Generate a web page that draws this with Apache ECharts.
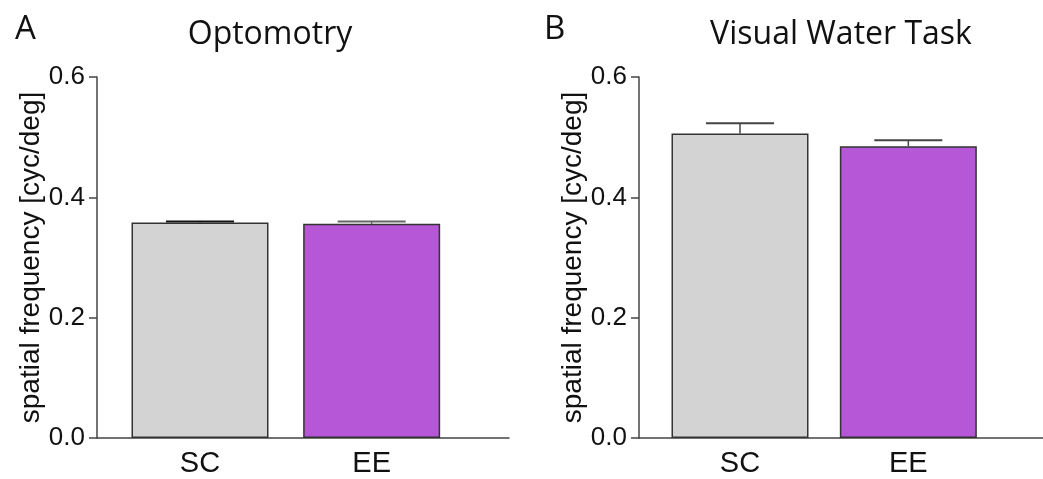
<!DOCTYPE html>
<html>
<head>
<meta charset="utf-8">
<script src="https://cdn.jsdelivr.net/npm/echarts@6/dist/echarts.min.js"></script>
<style>
html,body{margin:0;padding:0;background:#fff;}
#c{width:1043px;height:479px;}
</style>
</head>
<body>
<div id="c"></div>
<script>
// ---- data ----
const categories = ['SC', 'EE'];
const panelLetters = ['A', 'B'];
const panelTitles = ['Optomotry', 'Visual Water Task'];
const optomotryMean = [0.358, 0.356];
const optomotrySem = [0.002, 0.004];
const waterTaskMean = [0.506, 0.485];
const waterTaskSem = [0.017, 0.010];
const yTicks = [0.0, 0.2, 0.4, 0.6];
const yAxisName = 'spatial frequency [cyc/deg]';

// ---- styling ----
const barColors = ['#d3d3d3', '#b557d6'];
const errColorsA = ['#111111', '#666666'];
const errColorsB = ['#444444', '#444444'];
const axisColor = '#444444';
const labelFont = 'Liberation Sans, Arial, sans-serif';
const titleFont = '"Open Sans", "Noto Sans", sans-serif';

const chart = echarts.init(document.getElementById('c'), null, {renderer: 'canvas'});

function barData(means) {
  return means.map((v, i) => ({
    value: [i + 1, v],
    itemStyle: {color: barColors[i], borderColor: '#333', borderWidth: 1.5}
  }));
}
function errData(means, sems) {
  return means.map((v, i) => [i + 1, v, v + sems[i], i]);
}
function errRender(colors) {
  return function (params, api) {
    const x = api.value(0);
    const base = api.coord([x, api.value(1)]);
    const top = api.coord([x, api.value(2)]);
    const c = colors[api.value(3)];
    const half = 34;
    return {
      type: 'group',
      children: [
        {type: 'line', shape: {x1: base[0], y1: base[1], x2: top[0], y2: top[1]},
         style: {stroke: c, lineWidth: 1.5}},
        {type: 'line', shape: {x1: top[0] - half, y1: top[1], x2: top[0] + half, y2: top[1]},
         style: {stroke: c, lineWidth: 2}}
      ]
    };
  };
}

function xAxisDef(gridIndex) {
  return {
    type: 'value', gridIndex: gridIndex, min: 0.4, max: 2.8,
    axisLine: {show: true, onZero: false, lineStyle: {color: axisColor, width: 1.5}},
    axisTick: {show: false},
    splitLine: {show: false},
    axisLabel: {
      customValues: [1, 2],
      formatter: v => categories[Math.round(v) - 1] || '',
      color: '#111', fontSize: 29, fontFamily: labelFont, margin: 11
    }
  };
}
function yAxisDef(gridIndex) {
  return {
    type: 'value', gridIndex: gridIndex, min: 0, max: 0.6, interval: 0.2,
    name: yAxisName, nameLocation: 'middle', nameGap: 51, nameRotate: 90,
    nameTextStyle: {color: '#111', fontSize: 28, fontFamily: labelFont},
    axisLine: {show: true, lineStyle: {color: axisColor, width: 1.5}},
    axisTick: {show: true, length: 8, inside: false, lineStyle: {color: axisColor, width: 1.5}},
    splitLine: {show: false},
    axisLabel: {
      formatter: v => v.toFixed(1),
      color: '#111', fontSize: 26, fontFamily: labelFont, margin: 12
    }
  };
}

const option = {
  backgroundColor: '#ffffff',
  animation: false,
  title: [
    {text: panelLetters[0], left: 10, top: 8, textStyle: {fontFamily: titleFont, fontSize: 33, fontWeight: 'normal', color: '#111'}},
    {text: panelTitles[0], left: 265, top: 14, textAlign: 'center', textStyle: {fontFamily: titleFont, fontSize: 32, fontWeight: 'normal', color: '#111'}},
    {text: panelLetters[1], left: 539, top: 8, textStyle: {fontFamily: titleFont, fontSize: 33, fontWeight: 'normal', color: '#111'}},
    {text: panelTitles[1], left: 836, top: 14, textAlign: 'center', textStyle: {fontFamily: titleFont, fontSize: 32, fontWeight: 'normal', color: '#111'}}
  ],
  grid: [
    {left: 97, top: 77, width: 412, height: 361},
    {left: 639, top: 77, width: 412, height: 361}
  ],
  xAxis: [xAxisDef(0), xAxisDef(1)],
  yAxis: [yAxisDef(0), yAxisDef(1)],
  series: [
    {type: 'bar', xAxisIndex: 0, yAxisIndex: 0, barWidth: 137, data: barData(optomotryMean)},
    {type: 'custom', xAxisIndex: 0, yAxisIndex: 0, renderItem: errRender(errColorsA), data: errData(optomotryMean, optomotrySem), z: 1},
    {type: 'bar', xAxisIndex: 1, yAxisIndex: 1, barWidth: 137, data: barData(waterTaskMean)},
    {type: 'custom', xAxisIndex: 1, yAxisIndex: 1, renderItem: errRender(errColorsB), data: errData(waterTaskMean, waterTaskSem), z: 1}
  ]
};
chart.setOption(option);
</script>
</body>
</html>
